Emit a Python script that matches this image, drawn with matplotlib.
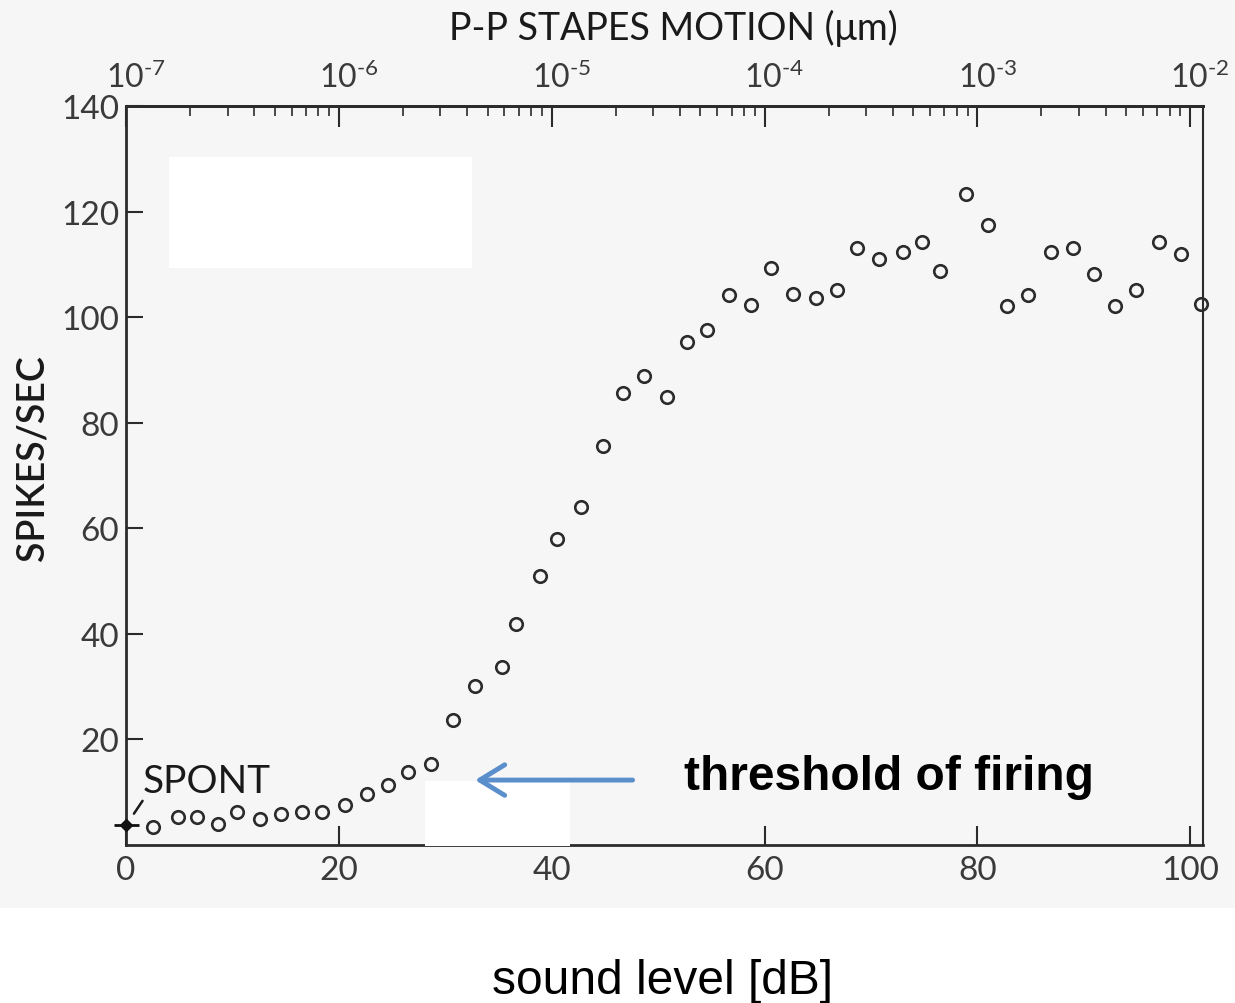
import numpy as np
import matplotlib
matplotlib.use("Agg")
import matplotlib.pyplot as plt
from matplotlib.patches import Rectangle
from matplotlib.ticker import FixedLocator, FuncFormatter, NullFormatter, LogLocator
from matplotlib.transforms import ScaledTranslation

plt.rcParams["font.family"] = ["Lato", "DejaVu Sans"]
plt.rcParams["mathtext.fontset"] = "custom"
plt.rcParams["mathtext.rm"] = "Lato"
plt.rcParams["mathtext.it"] = "Lato:italic"
plt.rcParams["axes.unicode_minus"] = False

# ---- data: firing rate vs. sound level ----
level_db = [2.5, 4.9, 6.7, 8.6, 10.4, 12.6, 14.6, 16.5, 18.4, 20.6,
            22.6, 24.6, 26.5, 28.7, 30.7, 32.8, 35.3, 36.6, 38.9, 40.5,
            42.8, 44.8, 46.7, 48.7, 50.8, 52.7, 54.6, 56.7, 58.7, 60.6,
            62.7, 64.8, 66.8, 68.7, 70.8, 73.0, 74.8, 76.5, 78.9, 81.0,
            82.8, 84.8, 86.9, 89.0, 91.0, 92.9, 94.9, 97.1, 99.1, 101.0]
spikes = [3.4, 5.3, 5.3, 4.0, 6.3, 4.9, 5.9, 6.3, 6.3, 7.6,
          9.7, 11.4, 13.8, 15.3, 23.7, 30.1, 33.7, 41.9, 51.0, 58.0,
          64.0, 75.6, 85.6, 88.8, 84.9, 95.3, 97.6, 104.2, 102.3, 109.3,
          104.4, 103.6, 105.1, 113.1, 111.0, 112.3, 114.2, 108.7, 123.3, 117.4,
          102.1, 104.2, 112.3, 113.1, 108.2, 102.1, 105.1, 114.2, 111.9, 102.5]
spont_db = [0.0]
spont_rate = [3.8]

x_ticks = [0, 20, 40, 60, 80, 100]
y_ticks = [20, 40, 60, 80, 100, 120, 140]
stapes_decades = [1e-7, 1e-6, 1e-5, 1e-4, 1e-3, 1e-2]

X_MAX = 101.2
Y_MAX = 140

# annotation anchors (data units)
arrow_tip = (32.8, 12.3)
arrow_tail = (47.6, 12.3)

W, H = 1235, 1004
INK = "#2b2b2b"
BG = "#f6f6f6"


def fx(px):
    return px / W


def fy(py):
    return 1 - py / H


fig = plt.figure(figsize=(W / 100, H / 100), dpi=100)
fig.patch.set_facecolor("white")

# grey scanned-page area
fig.add_artist(Rectangle((0, fy(909)), 1, 1 - fy(909), transform=fig.transFigure,
                         facecolor=BG, edgecolor="none", zorder=-10))

ax = fig.add_axes([fx(126), fy(846), fx(1203) - fx(126), fy(107) - fy(846)])
ax.set_facecolor("none")
ax.set_xlim(0, X_MAX)
ax.set_ylim(0, Y_MAX)

# data points
ax.plot(level_db, spikes, linestyle="none", marker="o", markersize=9,
        markerfacecolor="none", markeredgecolor=INK, markeredgewidth=1.9,
        clip_on=False, zorder=3)
ax.plot(spont_db, spont_rate, linestyle="none", marker="_", markersize=18,
        markeredgewidth=2, color="#111111", clip_on=False, zorder=4)
ax.plot(spont_db, spont_rate, linestyle="none", marker="D", markersize=6,
        color="#111111", clip_on=False, zorder=4)

for side in ["left", "right", "top", "bottom"]:
    ax.spines[side].set_color(INK)
    ax.spines[side].set_linewidth(2.0)
ax.spines["right"].set_linewidth(1.5)

ax.set_xticks(x_ticks)
ax.set_yticks(y_ticks)
ax.tick_params(axis="x", direction="in", length=14, width=1.5, pad=7,
               labelsize=24, colors=INK, labelcolor="#3a3a3a", top=False)
ax.tick_params(axis="y", direction="in", length=12, width=1.5, pad=5,
               labelsize=24, colors=INK, labelcolor="#3a3a3a", right=False)

# top axis: peak-to-peak stapes motion, 20 dB per decade
ax2 = ax.twiny()
ax2.set_xscale("log")
ax2.set_xlim(1e-7, 10 ** (X_MAX / 20 - 7))
ax2.patch.set_visible(False)
for side in ["left", "right", "bottom"]:
    ax2.spines[side].set_visible(False)
ax2.spines["top"].set_color(INK)
ax2.spines["top"].set_linewidth(2.0)
ax2.xaxis.set_major_locator(FixedLocator(stapes_decades))
ax2.xaxis.set_minor_locator(LogLocator(base=10, subs=np.arange(2, 10)))
ax2.xaxis.set_major_formatter(FuncFormatter(
    lambda v, pos: r"$\mathdefault{10^{\text{-}%d}}$" % abs(round(np.log10(v)))))
ax2.xaxis.set_minor_formatter(NullFormatter())
ax2.tick_params(axis="x", which="major", direction="in", length=15, width=1.5,
                pad=9, labelsize=23, colors=INK, labelcolor="#3a3a3a")
ax2.tick_params(axis="x", which="minor", direction="in", length=7, width=1.2,
                colors=INK)
shift = ScaledTranslation(0.10, 0, fig.dpi_scale_trans)
for lbl in ax2.get_xticklabels():
    lbl.set_transform(lbl.get_transform() + shift)

# axis titles
fig.text(fx(33), fy(458), "SPIKES/SEC", rotation=90, ha="center", va="center",
         fontsize=27, fontweight="semibold", color="#1a1a1a")
fig.text(fx(673), fy(28), "P-P STAPES MOTION (\u03bcm)", ha="center", va="center",
         fontsize=27, color="#1a1a1a")

# SPONT label and its leader line
fig.text(fx(143), fy(793), "SPONT", ha="left", va="baseline",
         fontsize=28, color="#1a1a1a")
ax.annotate("", xy=(spont_db[0] + 0.6, spont_rate[0] + 1.7),
            xytext=(spont_db[0] + 1.7, spont_rate[0] + 5.0),
            arrowprops=dict(arrowstyle="-", lw=1.8, color="#1a1a1a"))

# white cover patches, kept inside the axes so the arrow can sit on top
ax.add_patch(Rectangle((fx(169), fy(269)), fx(472) - fx(169), fy(158) - fy(269),
                       transform=fig.transFigure, facecolor="white",
                       edgecolor="none", zorder=5, clip_on=False))
ax.add_patch(Rectangle((fx(425), fy(847)), fx(570) - fx(425), fy(782) - fy(847),
                       transform=fig.transFigure, facecolor="white",
                       edgecolor="none", zorder=5, clip_on=False))

# threshold annotation
arrow = ax.annotate("", xy=arrow_tip, xytext=arrow_tail,
                    arrowprops=dict(arrowstyle="->,head_length=0.9,head_width=0.55",
                                    lw=3.5, color="#5a8fcc", mutation_scale=20,
                                    shrinkA=0, shrinkB=0))
arrow.set_zorder(6)
fig.text(fx(684), fy(790), "threshold of firing", ha="left", va="baseline",
         fontsize=34.5, fontweight="bold", family="Liberation Sans", color="black")

fig.text(fx(662), fy(994), "sound level [dB]", ha="center", va="baseline",
         fontsize=34.5, family="Liberation Sans", color="black")

fig.savefig("out.png", dpi=100, facecolor="white")
